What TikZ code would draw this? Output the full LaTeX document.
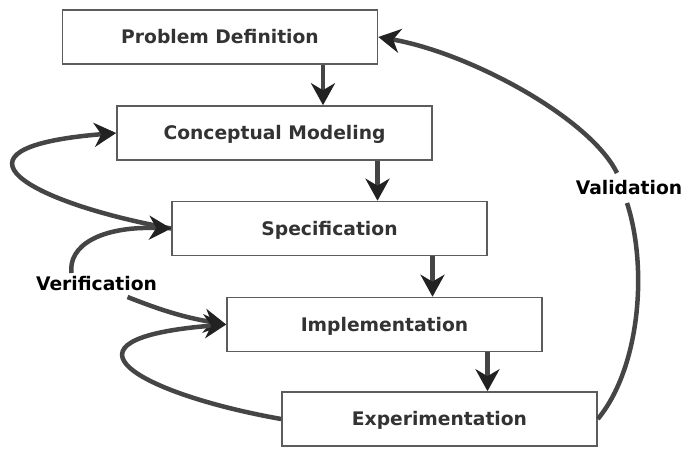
\documentclass[tikz,border=0pt]{standalone}
\usepackage{fontspec}
\setmainfont{DejaVu Sans}
\usetikzlibrary{arrows.meta}
\definecolor{linegray}{HTML}{454545}
\definecolor{tipgray}{HTML}{222222}
\definecolor{boxgray}{HTML}{5C5C5C}
\definecolor{textgray}{HTML}{333333}
\begin{document}
\begin{tikzpicture}[x=1pt,y=1pt,
  stage/.style={draw=boxgray, line width=1.6pt, fill=white, minimum width=315pt, minimum height=54pt, inner sep=0pt, text=textgray, font=\fontsize{18.7}{20}\selectfont\bfseries, text height=13.6pt, text depth=0pt},
  lbl/.style={inner sep=0pt, text=black, font=\fontsize{18.7}{20}\selectfont\bfseries, text height=13.6pt, text depth=0pt},
  link/.style={draw=linegray, line width=4.5pt},
  flow/.style={link, -{Stealth[length=22pt,width=24pt,inset=7pt,color=tipgray]}}]
\useasboundingbox[fill=white] (0,0) rectangle (684,448);
\node[stage] (pd) at (220,411){Problem Definition};
\node[stage] (cm) at (274.5,315){Conceptual Modeling};
\node[stage] (spec) at (329.5,219.5){Specification};
\node[stage] (impl) at (384.5,123.5){Implementation};
\node[stage] (exp) at (439.5,29){Experimentation};
\node[lbl] (verif) at (96.5,164){Verification};
\node[lbl] (valid) at (629,260){Validation};
\draw[flow] ([xshift=103pt]pd.south) -- ([xshift=103pt]pd.south |- cm.north);
\draw[flow] ([xshift=103pt]cm.south) -- ([xshift=103pt]cm.south |- spec.north);
\draw[flow] ([xshift=103pt]spec.south) -- ([xshift=103pt]spec.south |- impl.north);
\draw[flow] ([xshift=103pt]impl.south) -- ([xshift=103pt]impl.south |- exp.north);
\draw[flow] (spec.west) .. controls (30,245) and (-68,300) .. (cm.west);
\draw[flow] ([xshift=-25pt,yshift=4pt]verif.north) .. controls (68,202) and (100,222) .. (spec.west);
\draw[flow] ([xshift=31pt,yshift=-6pt]verif.south) to[bend right=6] (impl.west);
\draw[flow] (exp.west) .. controls (140,54) and (42,109) .. (impl.west);
\draw[link] (exp.east) .. controls (640,80) and (648,180) .. ([xshift=-2pt,yshift=-8pt]valid.south);
\draw[flow] ([xshift=-12pt,yshift=8pt]valid.north) .. controls (590,330) and (470,395) .. (pd.east);
\end{tikzpicture}
\end{document}
